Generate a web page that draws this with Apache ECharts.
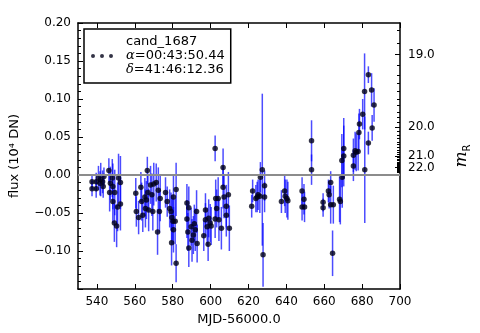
<!DOCTYPE html>
<html><head><meta charset="utf-8">
<script src="https://cdn.jsdelivr.net/npm/echarts@6/dist/echarts.min.js"></script>
<style>html,body{margin:0;padding:0;background:#fff}#c{width:480px;height:333px}</style>
</head><body><div id="c"></div>
<script>
// ---- data ----
const mjd = [
  537.4,537.4,539.6,539.6,540.8,541.6,542.0,543.0,543.3,543.7,546.3,546.7,547.1,548.1,548.4,548.4,549.2,549.4,550.4,550.9,551.4,552.4,552.4,
  560.5,560.8,562.0,563.2,563.6,564.2,565.3,565.6,566.1,566.6,566.9,567.3,568.3,569.0,569.5,570.0,571.3,572.0,572.4,573.0,573.4,
  576.2,577.1,578.4,579.1,579.6,579.4,580.1,580.4,580.4,581.3,581.8,581.8,
  587.5,588.5,587.5,588.0,588.5,589.7,590.2,590.9,591.4,591.9,592.6,592.9,
  596.4,597.3,597.3,598.2,598.7,599.0,599.8,600.3,
  602.4,602.7,603.2,602.4,604.0,604.4,605.7,606.6,606.6,607.1,608.3,608.3,609.4,609.9,
  621.7,622.2,623.9,624.6,625.1,626.0,626.3,627.3,627.7,628.5,628.5,
  637.4,639.1,639.4,640.3,640.8,
  648.3,648.3,649.3,649.6,
  653.3,653.3,
  659.4,659.4,662.2,662.6,663.4,663.4,664.8,664.4,668.1,668.5,669.5,669.3,670.3,670.3,
  675.4,675.4,676.3,676.9,677.9,678.3,678.6,680.3,681.3,681.4,683.3,683.3,685.0,685.3,686.3
];
const flux = [
  -0.009,-0.018,-0.009,-0.018,-0.004,-0.011,-0.006,-0.009,-0.015,-0.002,0.006,-0.023,-0.011,-0.004,-0.015,-0.035,-0.063,-0.023,-0.067,-0.042,-0.004,-0.010,-0.038,
  -0.024,-0.048,-0.056,-0.016,-0.035,-0.053,-0.029,-0.044,-0.033,0.006,-0.023,-0.046,-0.013,-0.026,-0.048,-0.012,-0.010,-0.075,-0.020,-0.048,-0.031,
  -0.023,-0.035,-0.044,-0.048,-0.056,-0.089,-0.061,-0.029,-0.072,-0.061,-0.019,-0.116,
  -0.037,-0.043,-0.058,-0.075,-0.096,-0.068,-0.086,-0.079,-0.064,-0.072,-0.048,-0.090,
  -0.080,-0.046,-0.059,-0.068,-0.091,-0.057,-0.063,-0.067,
  0.035,-0.031,-0.044,-0.058,-0.031,-0.059,-0.070,0.010,-0.016,-0.029,-0.041,-0.053,-0.026,-0.070,
  -0.041,-0.021,-0.031,-0.029,-0.026,-0.028,-0.003,0.007,-0.105,-0.014,-0.029,
  -0.035,-0.021,-0.028,-0.031,-0.034,
  -0.021,-0.042,-0.032,-0.042,
  0.045,0.007,
  -0.036,-0.043,-0.021,-0.026,-0.010,-0.039,-0.039,-0.103,-0.032,-0.035,-0.003,0.019,0.025,0.035,
  0.012,0.026,0.032,0.030,0.031,0.056,0.067,0.080,0.110,0.007,0.132,0.042,0.112,0.062,0.092
];
const fluxErr = [
  0.010,0.010,0.012,0.012,0.016,0.016,0.022,0.015,0.015,0.012,0.016,0.025,0.022,0.025,0.030,0.028,0.025,0.030,0.028,0.032,0.032,0.035,0.035,
  0.020,0.020,0.022,0.020,0.025,0.022,0.025,0.025,0.025,0.018,0.025,0.028,0.025,0.028,0.025,0.028,0.025,0.030,0.030,0.028,0.030,
  0.020,0.020,0.025,0.025,0.030,0.030,0.030,0.030,0.030,0.030,0.035,0.025,
  0.025,0.028,0.025,0.025,0.025,0.025,0.028,0.025,0.025,0.028,0.028,0.025,
  0.020,0.022,0.022,0.025,0.022,0.025,0.025,0.025,
  0.017,0.025,0.025,0.025,0.028,0.028,0.028,0.025,0.028,0.028,0.028,0.028,0.030,0.030,
  0.015,0.015,0.018,0.020,0.020,0.022,0.020,0.100,0.042,0.020,0.020,
  0.015,0.020,0.022,0.025,0.025,
  0.018,0.018,0.020,0.020,
  0.027,0.020,
  0.012,0.012,0.015,0.018,0.015,0.025,0.025,0.030,0.030,0.030,0.040,0.035,0.040,0.040,
  0.020,0.022,0.025,0.025,0.025,0.025,0.020,0.020,0.050,0.070,0.011,0.015,0.022,0.017,0.022
];
const xTicks = [540,560,580,600,620,640,660,680,700];
const magMajor = [19.0,20.0,21.0,22.0];
const magMinor = [18.8,18.9,19.1,19.2,19.3,19.4,19.5,19.6,19.7,19.8,19.9,
  20.1,20.2,20.3,20.4,20.5,20.6,20.7,20.8,20.9,21.1,21.2,21.3,21.4,21.5,21.6,21.7,21.8,21.9,
  22.1,22.2,22.3,22.4,22.5,22.6,22.7,22.8,22.9,23.0];
const zeroPoint = 17.0;
const legendLabel = 'cand_1687';
const legendLines = ['α', '=00:43:50.44', 'δ', '=41:46:12.36'];

// ---- helpers ----
const magToFlux = m => Math.pow(10, (zeroPoint - m) / 2.5);
const fluxToMag = f => zeroPoint - 2.5 * Math.log10(f);
const FONT = 'DejaVu Sans';
const fmtY = v => {
  if (Math.abs(v + 0.15) < 1e-9) return '';
  const s = Math.abs(v).toFixed(2);
  return v < -1e-9 ? '\u2212' + s : s;
};
const rightAxisBase = {type: 'value', min: -0.15, max: 0.20, position: 'right', splitLine: {show: false}};

const chart = echarts.init(document.getElementById('c'), null, {renderer: 'canvas'});
const axisLineStyle = {color: '#000', width: 1.5};
chart.setOption({
  animation: false,
  backgroundColor: '#fff',
  textStyle: {fontFamily: FONT},
  grid: {left: 77, right: 67, top: 23, bottom: 44},
  legend: {
    left: 84, top: 29,
    padding: [6, 6, 6, 7],
    borderColor: '#000', borderWidth: 1.5, borderRadius: 0,
    backgroundColor: '#fff',
    itemWidth: 22, itemHeight: 4,
    data: [{
      name: legendLabel,
      icon: 'path://M0,2A2,2,0,1,1,4,2A2,2,0,1,1,0,2Z M9,2A2,2,0,1,1,13,2A2,2,0,1,1,9,2Z M18,2A2,2,0,1,1,22,2A2,2,0,1,1,18,2Z'
    }],
    formatter: n => n + '\n{g|' + legendLines[0] + '}' + legendLines[1] + '\n{g|' + legendLines[2] + '}' + legendLines[3],
    textStyle: {
      fontFamily: FONT, fontSize: 13, color: '#000', lineHeight: 14,
      padding: [0, 0, 0, 8],
      rich: {g: {fontFamily: 'DejaVu Serif', fontStyle: 'italic', fontSize: 13, lineHeight: 14}}
    }
  },
  xAxis: [{
    type: 'value', min: 530, max: 700, position: 'bottom',
    axisLine: {show: true, onZero: false, lineStyle: axisLineStyle},
    axisTick: {show: true, inside: true, length: 5, customValues: xTicks, lineStyle: {color: '#000', width: 1}},
    axisLabel: {customValues: xTicks, fontSize: 12, color: '#000', margin: 7, fontFamily: FONT},
    splitLine: {show: false},
    name: 'MJD-56000.0', nameLocation: 'middle', nameGap: 24,
    nameTextStyle: {fontSize: 13, color: '#000', fontFamily: FONT}
  }, {
    type: 'value', min: 530, max: 700, position: 'top',
    axisLine: {show: true, onZero: false, lineStyle: axisLineStyle},
    axisTick: {show: true, inside: true, length: 5, customValues: xTicks, lineStyle: {color: '#000', width: 1}},
    axisLabel: {show: false},
    splitLine: {show: false}
  }],
  yAxis: [{
    type: 'value', min: -0.15, max: 0.20, interval: 0.05, position: 'left',
    axisLine: {show: true, onZero: false, lineStyle: axisLineStyle},
    axisTick: {show: true, inside: true, length: 5, lineStyle: {color: '#000', width: 1}},
    minorTick: {show: true, splitNumber: 5, length: 3, lineStyle: {color: '#000', width: 1}},
    axisLabel: {formatter: fmtY, fontSize: 12, color: '#000', margin: 7, fontFamily: FONT},
    splitLine: {show: false},
    name: 'flux (10\u2074 DN)', nameLocation: 'middle', nameGap: 57, nameRotate: 90,
    nameTextStyle: {fontSize: 13, color: '#000', fontFamily: FONT}
  }, Object.assign({}, rightAxisBase, {
    axisLine: {show: true, onZero: false, lineStyle: axisLineStyle},
    axisTick: {show: true, inside: true, length: 5, customValues: magMajor.slice(0, 3).map(magToFlux), lineStyle: {color: '#000', width: 1}},
    axisLabel: {customValues: magMajor.slice(0, 3).map(magToFlux), interval: 0, hideOverlap: false,
      formatter: v => fluxToMag(v).toFixed(1), fontSize: 12, color: '#000', margin: 8, fontFamily: FONT},
    name: '{m|m}{r|R}', nameLocation: 'middle', nameGap: 52, nameRotate: 90,
    nameTextStyle: {
      rich: {
        m: {fontFamily: 'DejaVu Serif', fontStyle: 'italic', fontSize: 17, color: '#000', lineHeight: 20},
        r: {fontFamily: 'DejaVu Sans', fontSize: 10, color: '#000', lineHeight: 20, verticalAlign: 'bottom', padding: [8, 0, 0, 0]}
      }
    }
  }), Object.assign({}, rightAxisBase, {
    axisLine: {show: false},
    axisTick: {show: true, inside: true, length: 5, customValues: magMajor.slice(3).map(magToFlux), lineStyle: {color: '#000', width: 1}},
    axisLabel: {customValues: magMajor.slice(3).map(magToFlux), interval: 0, hideOverlap: false,
      formatter: v => fluxToMag(v).toFixed(1), fontSize: 12, color: '#000', margin: 8, fontFamily: FONT}
  }), Object.assign({}, rightAxisBase, {
    axisLine: {show: false},
    axisTick: {show: true, inside: true, length: 3, customValues: magMinor.map(magToFlux), lineStyle: {color: '#000', width: 1}},
    axisLabel: {show: false}
  })],
  series: [{
    type: 'custom',
    name: 'errors',
    xAxisIndex: 0, yAxisIndex: 0,
    z: 2,
    clip: true,
    silent: true,
    data: mjd.map((x, i) => [x, flux[i] - fluxErr[i], flux[i] + fluxErr[i]]),
    encode: {x: 0, y: [1, 2]},
    renderItem: (params, api) => {
      const p1 = api.coord([api.value(0), api.value(1)]);
      const p2 = api.coord([api.value(0), api.value(2)]);
      return {type: 'line', shape: {x1: p1[0], y1: p1[1], x2: p2[0], y2: p2[1]},
        style: {stroke: 'rgba(0,0,255,0.7)', lineWidth: 1.5}};
    },
    markLine: {
      silent: true, symbol: ['none', 'none'], label: {show: false},
      lineStyle: {color: '#8c8c8c', width: 2, type: 'solid'},
      data: [{yAxis: 0}]
    }
  }, {
    type: 'scatter',
    name: legendLabel,
    xAxisIndex: 0, yAxisIndex: 0,
    z: 3,
    symbolSize: 5.5,
    itemStyle: {color: '#000018'},
    data: mjd.map((x, i) => [x, flux[i]])
  }]
});
</script>
</body></html>
